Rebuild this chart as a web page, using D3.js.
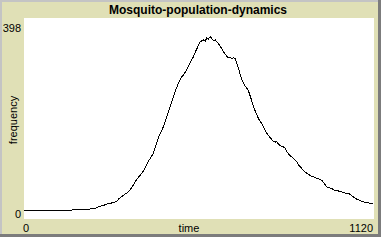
<!DOCTYPE html>
<meta charset="utf-8">
<style>
    body { margin: 0; background: #fff; }
    text { font-family: "Liberation Sans", Arial, sans-serif; fill: #000; }
    .title { font-size: 12px; font-weight: bold; text-anchor: middle; }
    .lbl { font-size: 11px; }
    .line { fill: none; stroke: #000; stroke-width: 1px; shape-rendering: crispEdges; }
</style>
<svg></svg>
<script src="https://cdn.jsdelivr.net/npm/d3@7"></script>
<script>

    var width = 386,
        height = 242;

    // time ticks and mosquito counts
    var times  = [0, 40, 80, 120, 152, 157, 190, 211, 230, 243, 255, 265, 280, 291, 296, 302, 315, 330, 339,
                  348, 355, 365, 375, 382, 392, 400, 408, 414, 422, 430, 438, 446, 454, 462, 470, 478, 486, 494,
                  500, 505, 510, 518, 526, 534, 542, 548, 553, 558, 563, 568, 574, 580, 585, 590, 596, 601, 607,
                  612, 617, 622, 627, 635, 643, 648, 654, 660, 666, 671, 675, 681, 689, 697, 705, 712, 718, 726,
                  734, 740, 745, 752, 759, 766, 772, 777, 785, 792, 798, 804, 808, 815, 822, 829, 835, 842, 850,
                  857, 865, 873, 880, 887, 894, 902, 910, 918, 926, 935, 945, 955, 962, 969, 978, 987, 995, 1003,
                  1011, 1020, 1028, 1036, 1043, 1050, 1058, 1065, 1073, 1081, 1090, 1097, 1104, 1110, 1116];
    var counts = [0, 0, 0, 0, 0, 2, 2, 3, 5, 9, 11, 14, 16, 18, 19, 24, 31, 38, 44,
                  52, 61, 70, 78, 84, 97, 107, 116, 122, 138, 156, 167, 179, 194, 210, 226, 242, 258, 271,
                  280, 286, 289, 297, 307, 318, 328, 338, 345, 352, 359, 362, 364, 361, 369, 366, 371, 367, 363,
                  364, 360, 356, 352, 343, 334, 330, 326, 327, 324, 326, 325, 314, 297, 279, 268, 262, 256, 240,
                  222, 212, 204, 194, 187, 179, 171, 165, 158, 152, 147, 146, 147, 141, 138, 136, 133, 125, 118,
                  114, 109, 104, 96, 91, 86, 81, 77, 74, 72, 69, 67, 63, 57, 50, 48, 46, 43, 42,
                  41, 39, 37, 36, 35, 31, 27, 24, 22, 19, 18, 17, 16, 15, 14];

    var xTicks = [0, 1120],
        yTicks = [0, 398];

    var svg = d3.select("svg")
        .attr("width", width)
        .attr("height", height);

    // widget frame
    svg.append("rect").attr("x", 0).attr("y", 0).attr("width", 381).attr("height", 237).attr("fill", "#7c7c7c");
    svg.append("rect").attr("x", 0).attr("y", 0).attr("width", 378).attr("height", 234).attr("fill", "#c4c4c4");
    svg.append("rect").attr("x", 2).attr("y", 2).attr("width", 376).attr("height", 232).attr("fill", "#e0e0b6");

    // plot canvas
    svg.append("rect").attr("x", 24).attr("y", 18).attr("width", 350).attr("height", 201).attr("fill", "#fff");

    var x = d3.scaleLinear().domain([0, 1120]).range([24, 374]);
    var y = d3.scaleLinear().domain([0, 398]).range([210.5, 24]);

    var data = times.map(function(t, i) { return [t, counts[i]]; });

    svg.append("path")
        .datum(data)
        .attr("class", "line")
        .attr("d", d3.line()
            .x(function(d) { return x(d[0]); })
            .y(function(d) { return y(d[1]); }));

    svg.append("text").attr("class", "title").attr("x", 198).attr("y", 14).text("Mosquito-population-dynamics");

    // y labels
    svg.append("text").attr("class", "lbl").attr("x", 21).attr("y", 32).attr("text-anchor", "end").text(yTicks[1]);
    svg.append("text").attr("class", "lbl").attr("x", 21).attr("y", 218).attr("text-anchor", "end").text(yTicks[0]);
    svg.append("text").attr("class", "lbl")
        .attr("transform", "translate(17,120) rotate(-90)")
        .attr("text-anchor", "middle")
        .text("frequency");

    // x labels
    svg.append("text").attr("class", "lbl").attr("x", 23).attr("y", 232).text(xTicks[0]);
    svg.append("text").attr("class", "lbl").attr("x", 373).attr("y", 232).attr("text-anchor", "end").text(xTicks[1]);
    svg.append("text").attr("class", "lbl").attr("x", 189).attr("y", 232).attr("text-anchor", "middle").text("time");

</script>
